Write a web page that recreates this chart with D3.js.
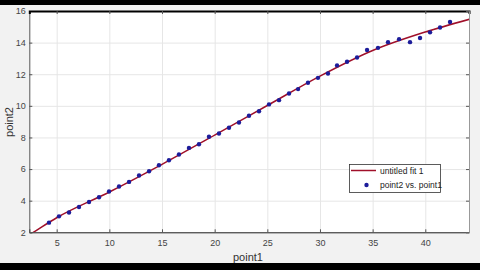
<html>
	<head>
		<title></title>
		<script type="text/javascript" src="https://d3js.org/d3.v7.min.js"></script>
		<style>
			body { margin: 0; }
			text { font-family: "Liberation Sans", Arial, sans-serif; }
		</style>
	</head>
	<body>
		<div></div>
		<script>
			//Data
			var point1 = [4.27, 5.22, 6.17, 7.12, 8.07, 9.02, 9.97, 10.92, 11.87, 12.82,
				13.77, 14.71, 15.66, 16.61, 17.56, 18.51, 19.46, 20.41, 21.36, 22.31,
				23.26, 24.21, 25.16, 26.11, 27.06, 27.92, 28.86, 29.81, 30.76, 31.62,
				32.57, 33.52, 34.47, 35.51, 36.46, 37.51, 38.55, 39.50, 40.45, 41.40, 42.35];
			var point2 = [2.61, 3.01, 3.25, 3.60, 3.92, 4.22, 4.58, 4.90, 5.19, 5.59,
				5.86, 6.24, 6.56, 6.92, 7.34, 7.57, 8.04, 8.25, 8.61, 8.95,
				9.37, 9.66, 10.09, 10.36, 10.78, 11.06, 11.46, 11.77, 12.05, 12.56,
				12.79, 13.06, 13.53, 13.67, 14.03, 14.22, 14.03, 14.29, 14.65, 14.96, 15.30];

			//Fitted curve
			var fitX = [2.0, 2.78, 5, 10, 15, 20, 25, 30, 35, 40, 44.2];
			var fitY = [1.68, 2.0, 2.92, 4.55, 6.3, 8.15, 10.02, 11.88, 13.5, 14.67, 15.48];

			var xTicks = [5, 10, 15, 20, 25, 30, 35, 40];
			var yTicks = [2, 4, 6, 8, 10, 12, 14, 16];
			var legendLabels = ["untitled fit 1", "point2 vs. point1"];

			//Plot box
			var boxLeft = 29.3, boxRight = 469, boxTop = 11, boxBottom = 232.3;
			var width = 480, height = 270;

			var canvas = d3.select("div").append("svg")
							.attr("width", width)
							.attr("height", height);

			canvas.append("rect").attr("width", width).attr("height", height).attr("fill", "#f2f2f2");
			canvas.append("rect").attr("width", width).attr("height", 5).attr("fill", "#000");
			canvas.append("rect").attr("y", 263).attr("width", width).attr("height", 7).attr("fill", "#000");
			canvas.append("rect").attr("x", boxLeft).attr("y", boxTop)
				.attr("width", boxRight - boxLeft).attr("height", boxBottom - boxTop).attr("fill", "#fff");

			var xScale = d3.scaleLinear().domain([2.4, 44.15]).range([boxLeft, boxRight]);
			var yScale = d3.scaleLinear().domain([2, 16]).range([boxBottom, boxTop]);

			//Grid lines
			canvas.append("g").attr("transform", "translate(0," + boxBottom + ")")
				.call(d3.axisBottom(xScale).tickValues(xTicks).tickSize(-(boxBottom - boxTop)).tickFormat(""))
				.call(function(g){ g.select(".domain").remove(); })
				.selectAll("line").attr("stroke", "#e6e6e6");
			canvas.append("g").attr("transform", "translate(" + boxLeft + ",0)")
				.call(d3.axisLeft(yScale).tickValues(yTicks).tickSize(-(boxRight - boxLeft)).tickFormat(""))
				.call(function(g){ g.select(".domain").remove(); })
				.selectAll("line").attr("stroke", "#e6e6e6");

			//Fit curve
			canvas.append("clipPath").attr("id", "clip").append("rect")
				.attr("x", boxLeft).attr("y", boxTop).attr("width", boxRight - boxLeft).attr("height", boxBottom - boxTop);
			var line = d3.line()
				.x(function(d){ return xScale(d[0]); })
				.y(function(d){ return yScale(d[1]); })
				.curve(d3.curveMonotoneX);
			canvas.append("path")
				.datum(fitX.map(function(x, i){ return [x, fitY[i]]; }))
				.attr("clip-path", "url(#clip)")
				.attr("d", line)
				.attr("fill", "none")
				.attr("stroke", "#a0102a")
				.attr("stroke-width", 1.5);

			//Points
			canvas.append("g").selectAll("circle").data(point1).enter().append("circle")
				.attr("cx", function(d){ return xScale(d); })
				.attr("cy", function(d, i){ return yScale(point2[i]); })
				.attr("r", 2.2)
				.attr("fill", "#1c1c9a");

			//Axes, ticks pointing inward
			var axBottom = canvas.append("g").attr("transform", "translate(0," + boxBottom + ")")
				.call(d3.axisBottom(xScale).tickValues(xTicks).tickSize(-3).tickPadding(7));
			var axLeft = canvas.append("g").attr("transform", "translate(" + boxLeft + ",0)")
				.call(d3.axisLeft(yScale).tickValues(yTicks).tickSize(-3).tickPadding(3.5));
			var axTop = canvas.append("g").attr("transform", "translate(0," + boxTop + ")")
				.call(d3.axisTop(xScale).tickValues(xTicks).tickSize(-3).tickFormat(""));
			var axRight = canvas.append("g").attr("transform", "translate(" + boxRight + ",0)")
				.call(d3.axisRight(yScale).tickValues(yTicks).tickSize(-3).tickFormat(""));

			[axBottom, axLeft, axTop, axRight].forEach(function(a){
				a.selectAll("text").attr("fill", "#444").style("font-size", "9px");
				a.selectAll("line").attr("stroke", "#555");
				a.select(".domain").attr("stroke", "#555");
			});
			axBottom.select(".domain").attr("stroke", "#222");
			axTop.select(".domain").attr("stroke", "#000").attr("stroke-width", 2);
			axRight.select(".domain").attr("stroke", "#999");

			//Axis titles
			canvas.append("text").text("point1")
				.attr("x", 248).attr("y", 260.5)
				.attr("text-anchor", "middle")
				.attr("fill", "#333").style("font-size", "11px");
			canvas.append("text").text("point2")
				.attr("transform", "translate(13,122) rotate(-90)")
				.attr("text-anchor", "middle")
				.attr("fill", "#333").style("font-size", "11px");

			//Legend
			var legend = canvas.append("g");
			legend.append("rect")
				.attr("x", 349.5).attr("y", 164.5).attr("width", 91).attr("height", 28)
				.attr("fill", "#fff").attr("stroke", "#333").attr("stroke-width", 0.8);
			legend.append("line")
				.attr("x1", 351).attr("x2", 376).attr("y1", 170.5).attr("y2", 170.5)
				.attr("stroke", "#a0102a").attr("stroke-width", 1.5);
			legend.append("circle").attr("cx", 366.5).attr("cy", 185).attr("r", 2.2).attr("fill", "#1c1c9a");
			legend.selectAll("text").data(legendLabels).enter().append("text")
				.text(function(d){ return d; })
				.attr("x", 380)
				.attr("y", function(d, i){ return 173.5 + i * 14.5; })
				.attr("fill", "#222").style("font-size", "8.5px");
		</script>
	</body>
</html>
